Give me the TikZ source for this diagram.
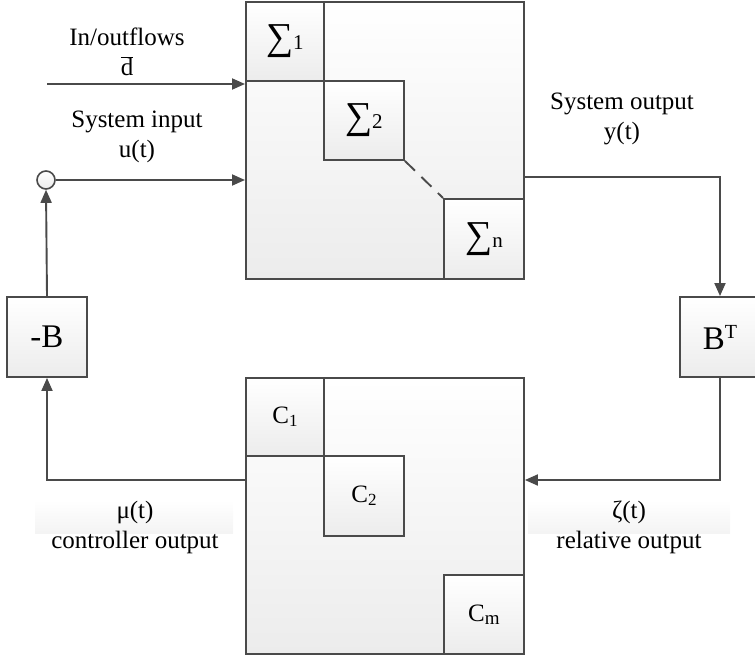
\documentclass[tikz,border=0pt]{standalone}
\usepackage{fontspec}
\setmainfont{Liberation Serif}
\usetikzlibrary{arrows.meta}
\definecolor{lineclr}{HTML}{4A4A4A}
\definecolor{boxgray}{HTML}{ECECEC}
\newcommand{\sumsym}[1]{{\fontsize{38}{40}\selectfont ∑}{\fontsize{21}{24}\selectfont #1}}
\begin{document}
\begin{tikzpicture}[x=1pt,y=-1pt,
  box/.style={draw=lineclr, line width=1.9pt, top color=white, bottom color=boxgray,
              inner sep=0pt, anchor=north west, font=\fontsize{25}{28}\selectfont},
  gbox/.style={draw=lineclr, line width=1.9pt, top color=white, bottom color=boxgray,
              inner sep=0pt, minimum width=80pt, minimum height=80pt, font=\fontsize{33}{36}\selectfont},
  conn/.style={draw=lineclr, line width=1.9pt},
  arr/.style={conn, -{Triangle[length=13pt,width=11pt]}},
  lbl/.style={font=\fontsize{25}{30}\selectfont, align=center, text=black, inner sep=0pt},
  lblbg/.style={top color=white, bottom color=gray!9, draw=none}]
\useasboundingbox (0,0) rectangle (755,658);

% faint label backgrounds
\shade[lblbg] (35,500) rectangle (233,533);
\shade[lblbg] (528,500) rectangle (730,533);

% system block
\node[box, minimum width=278pt, minimum height=277pt] (sys) at (245,1) {};
\node[box, minimum width=78pt, minimum height=79pt] (s1) at (245,1) {\sumsym{1}};
\node[box, minimum width=80pt, minimum height=79pt] (s2) at (323,80) {\sumsym{2}};
\node[box, minimum width=80pt, minimum height=80pt] (sn) at (443,198) {\sumsym{n}};
\draw[conn, dash pattern=on 14pt off 9pt] (s2.south east) -- (sn.north west);

% controller block
\node[box, minimum width=278pt, minimum height=276pt] (ctrl) at (245,377) {};
\node[box, minimum width=78pt, minimum height=78pt] (c1) at (245,377) {C\raisebox{-3pt}{\fontsize{17}{18}\selectfont 1}};
\node[box, minimum width=80pt, minimum height=80pt] (c2) at (323,455) {C\raisebox{-3pt}{\fontsize{17}{18}\selectfont 2}};
\node[box, minimum width=80pt, minimum height=79pt] (cm) at (443,574) {C\raisebox{-3pt}{\fontsize{19}{18}\selectfont m}};

% gain blocks
\node[gbox] (mB) at (47,337) {-B};
\node[gbox] (BT) at (720,337) {B\raisebox{11pt}{\fontsize{20}{22}\selectfont T}};

% summing junction
\node[circle, draw=lineclr, line width=1.6pt, top color=white, bottom color=boxgray,
      minimum size=18pt, inner sep=0pt] (sum) at (46,180) {};

% connectors
\coordinate (d0) at (47,84);
\draw[arr] (d0) -- (d0 -| sys.west);
\draw[arr] (sum.east) -- (sum.east -| sys.west);
\coordinate (yout) at (523,177);
\draw[arr] (yout) -| (BT.north);
\coordinate (zin) at (720,480);
\draw[arr] (BT.south) -- (zin) -- (zin -| ctrl.east);
\coordinate (muout) at (245,480);
\draw[arr] (muout) -| (mB.south);
\draw[arr] (mB.north) -- (sum.south);

% labels
\node[lbl] (lin) at (127,52) {In/outflows\\$\overline{\hbox{d}}$};
\node[lbl] (lu) at (137,137) {System input\\u(t)};
\node[lbl] (ly) at (622,119) {System output\\y(t)};
\node[lbl] (lmu) at (135,527) {μ(t)\\controller output};
\node[lbl] (lz) at (629,527) {ζ(t)\\relative output};
\end{tikzpicture}
\end{document}
